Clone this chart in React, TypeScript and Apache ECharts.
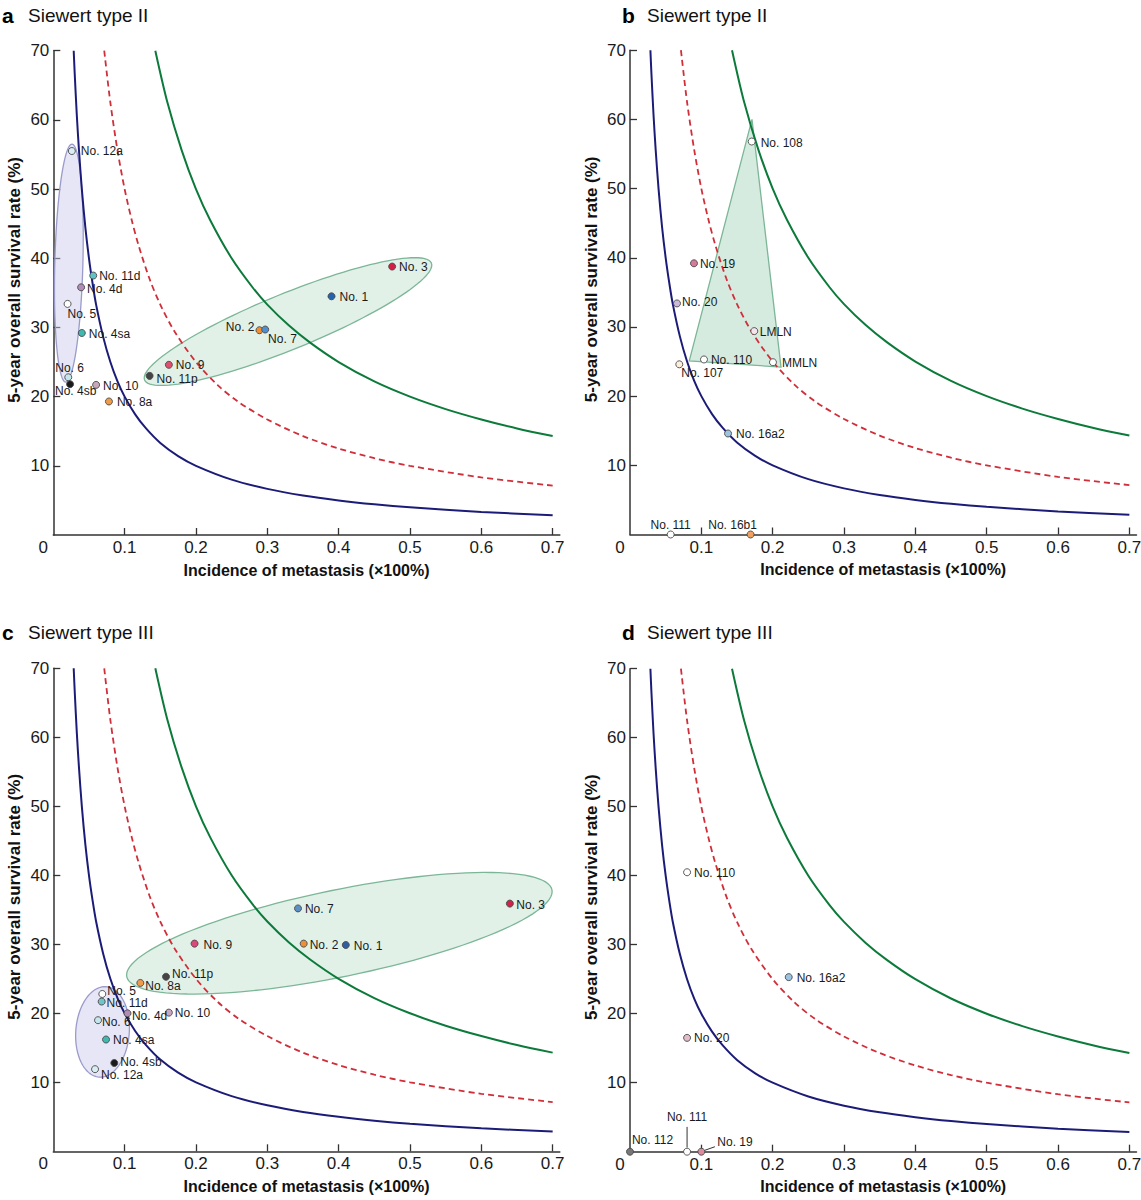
import React, { useEffect, useRef } from "react";
import * as echarts from "echarts";

const FONT = "'Liberation Sans', Arial, Helvetica, sans-serif";

// ---------- axes & titles ----------
const xTickValues = [0, 0.1, 0.2, 0.3, 0.4, 0.5, 0.6, 0.7];
const yTickValues = [10, 20, 30, 40, 50, 60, 70];
const panelLetters = ["a", "b", "c", "d"];
const panelTitles = ["Siewert type II", "Siewert type II", "Siewert type III", "Siewert type III"];
const xAxisTitle = "Incidence of metastasis (\u00d7100%)";
const yAxisTitle = "5-year overall survival rate (%)";

// ---------- reference curves ----------
const curveLow: [number, number][] = [
  [0.0286, 70], [0.03, 66.7], [0.033, 60.6], [0.036, 55.6], [0.04, 50], [0.045, 44.4],
  [0.05, 40], [0.055, 36.4], [0.06, 33.3], [0.07, 28.6], [0.08, 25], [0.09, 22.2],
  [0.1, 20], [0.115, 17.4], [0.13, 15.4], [0.15, 13.3], [0.175, 11.4], [0.2, 10],
  [0.25, 8], [0.3, 6.67], [0.35, 5.71], [0.4, 5], [0.45, 4.44], [0.5, 4], [0.6, 3.33], [0.7, 2.86],
];
const curveMid: [number, number][] = [
  [0.0714, 70], [0.08, 62.5], [0.09, 55.6], [0.1, 50], [0.11, 45.5], [0.12, 41.7],
  [0.135, 37], [0.15, 33.3], [0.17, 29.4], [0.2, 25], [0.23, 21.7], [0.26, 19.2],
  [0.3, 16.7], [0.35, 14.3], [0.4, 12.5], [0.45, 11.1], [0.5, 10], [0.6, 8.33], [0.7, 7.14],
];
const curveHigh: [number, number][] = [
  [0.143, 70], [0.16, 62.5], [0.18, 55.6], [0.2, 50], [0.22, 45.5], [0.25, 40],
  [0.28, 35.7], [0.3, 33.3], [0.33, 30.3], [0.36, 27.8], [0.4, 25], [0.45, 22.2],
  [0.5, 20], [0.55, 18.2], [0.6, 16.7], [0.65, 15.4], [0.7, 14.3],
];

// ---------- stations: [name, incidence, survival] ----------
const pointsA: [string, number, number][] = [
  ["No. 12a", 0.026, 55.5], ["No. 11d", 0.056, 37.5], ["No. 4d", 0.039, 35.8],
  ["No. 5", 0.02, 33.4], ["No. 4sa", 0.04, 29.2], ["No. 6", 0.021, 22.8],
  ["No. 4sb", 0.0235, 21.8], ["No. 10", 0.06, 21.7], ["No. 8a", 0.078, 19.3],
  ["No. 11p", 0.135, 23.0], ["No. 9", 0.162, 24.6], ["No. 2", 0.289, 29.6],
  ["No. 7", 0.297, 29.7], ["No. 3", 0.475, 38.8], ["No. 1", 0.39, 34.5],
];
const pointsB: [string, number, number][] = [
  ["No. 108", 0.1706, 56.8], ["No. 19", 0.0897, 39.2], ["No. 20", 0.0659, 33.4],
  ["LMLN", 0.1742, 29.4], ["No. 110", 0.1037, 25.3], ["No. 107", 0.0691, 24.6],
  ["MMLN", 0.2004, 24.9], ["No. 16a2", 0.1374, 14.6], ["No. 111", 0.057, 0],
  ["No. 16b1", 0.169, 0],
];
const pointsC: [string, number, number][] = [
  ["No. 7", 0.343, 35.2], ["No. 9", 0.198, 30.1], ["No. 2", 0.351, 30.1],
  ["No. 1", 0.41, 29.9], ["No. 3", 0.64, 35.9], ["No. 11p", 0.158, 25.3],
  ["No. 8a", 0.122, 24.4], ["No. 5", 0.0687, 22.8], ["No. 11d", 0.0678, 21.7],
  ["No. 4d", 0.104, 20.0], ["No. 10", 0.162, 20.1], ["No. 6", 0.0627, 19.0],
  ["No. 4sa", 0.0739, 16.2], ["No. 4sb", 0.0855, 12.8], ["No. 12a", 0.0585, 11.9],
];
const pointsD: [string, number, number][] = [
  ["No. 110", 0.08, 40.5], ["No. 16a2", 0.2225, 25.3], ["No. 20", 0.08, 16.5],
  ["No. 112", 0, 0], ["No. 111", 0.08, 0], ["No. 19", 0.1, 0],
];

// ---------- group outlines (data coordinates) ----------
const ellipsesA = [
  { center: [0.0218, 39.3], end: [0.0262, 56.5], ratio: 0.118, tone: "purple" },
  { center: [0.329, 30.85], end: [0.53, 39.3], ratio: 0.18, tone: "green" },
];
const trianglesB = [{ vertices: [[0.171, 60.0], [0.0831, 25.1], [0.2117, 24.2]], tone: "green" }];
const ellipsesC = [
  { center: [0.069, 17.3], end: [0.0739, 23.85], ratio: 0.59, tone: "purple" },
  { center: [0.401, 31.6], end: [0.699, 37.9], ratio: 0.2, tone: "green" },
];
const leadersD: [number, number][][] = [
  [[0.08, 0.6], [0.08, 3.6]],
  [[0.104, 0.17], [0.119, 0.72]],
];

// ---------- styles ----------
const tones: Record<string, { fill: string; stroke: string }> = {
  purple: { fill: "rgba(200,200,235,0.45)", stroke: "#9b9bcb" },
  green: { fill: "rgba(170,215,190,0.35)", stroke: "#7cb697" },
};
const colorsA: Record<string, string> = {
  "No. 12a": "#d9eef4", "No. 11d": "#5cc3c6", "No. 4d": "#b48ab6", "No. 5": "#ffffff",
  "No. 4sa": "#3fb8b0", "No. 6": "#c5e6ef", "No. 4sb": "#1a1a1a", "No. 10": "#c8a7b8",
  "No. 8a": "#f09a4a", "No. 11p": "#454545", "No. 9": "#e0506e", "No. 2": "#ef8f35",
  "No. 7": "#4a90d2", "No. 3": "#d41f45", "No. 1": "#2563ad",
};
const colorsB: Record<string, string> = {
  "No. 108": "#ffffff", "No. 19": "#d77a9a", "No. 20": "#cbb8da", "LMLN": "#f6e4ec",
  "No. 110": "#ffffff", "No. 107": "#fcefdc", "MMLN": "#ffffff", "No. 16a2": "#9cc3e0",
  "No. 111": "#ffffff", "No. 16b1": "#f0a060",
};
const colorsC: Record<string, string> = {
  "No. 7": "#5a90c4", "No. 9": "#d94a78", "No. 2": "#ef8f35", "No. 1": "#2e5fa0",
  "No. 3": "#d6204a", "No. 11p": "#454545", "No. 8a": "#f09a4a", "No. 5": "#ffffff",
  "No. 11d": "#6cc7cb", "No. 4d": "#b48ab6", "No. 10": "#c8a7c0", "No. 6": "#c5e6ef",
  "No. 4sa": "#3fb8b0", "No. 4sb": "#1a1a1a", "No. 12a": "#d9eef4",
};
const colorsD: Record<string, string> = {
  "No. 110": "#ffffff", "No. 16a2": "#9cc3e0", "No. 20": "#e2bccb", "No. 112": "#777777",
  "No. 111": "#ffffff", "No. 19": "#e08aa0",
};
type LP = [string, number, number];
const labelA: Record<string, LP> = {
  "No. 12a": ["right", 5, 0], "No. 11d": ["right", 2, 0], "No. 4d": ["right", 2, 2],
  "No. 5": ["right", -4, 10], "No. 4sa": ["right", 3, 1], "No. 6": ["right", -17, -9],
  "No. 4sb": ["right", -19, 7], "No. 10": ["right", 3, 1], "No. 8a": ["right", 4, 1],
  "No. 11p": ["right", 3, 3], "No. 9": ["right", 3, 0], "No. 2": ["left", -1, -3],
  "No. 7": ["right", -1, 9], "No. 3": ["right", 3, 0], "No. 1": ["right", 4, 1],
};
const labelB: Record<string, LP> = {
  "No. 108": ["right", 5, 1], "No. 19": ["right", 2, 1], "No. 20": ["right", 1, -1],
  "LMLN": ["right", 1.5, 1], "No. 110": ["right", 3, 1], "No. 107": ["right", -2, 9],
  "MMLN": ["right", 5, 1], "No. 16a2": ["right", 4, 1], "No. 111": ["top", 0, 0],
  "No. 16b1": ["top", -18, 0],
};
const labelC: Record<string, LP> = {
  "No. 7": ["right", 3, 1], "No. 9": ["right", 5, 1], "No. 2": ["right", 2, 1],
  "No. 1": ["right", 4, 1], "No. 3": ["right", 2.5, 1], "No. 11p": ["right", 2, -3],
  "No. 8a": ["right", 1, 3], "No. 5": ["right", 1, -3], "No. 11d": ["right", 1, 1],
  "No. 4d": ["right", 0.5, 2.5], "No. 10": ["right", 2, 0], "No. 6": ["right", 0, 1.5],
  "No. 4sa": ["right", 3, 0], "No. 4sb": ["right", 2, -1], "No. 12a": ["right", 2, 6],
};
const labelD: Record<string, LP> = {
  "No. 110": ["right", 3, 1], "No. 16a2": ["right", 4, 1], "No. 20": ["right", 3, 0],
  "No. 112": ["right", -2, -12], "No. 111": ["top", 0, -25], "No. 19": ["right", 12, -10],
};

const grids = [
  { left: 53.3, top: 50.7, width: 506.5, height: 484.3 },
  { left: 630, top: 50.2, width: 506.5, height: 484.3 },
  { left: 53.3, top: 668.3, width: 506.5, height: 483 },
  { left: 630, top: 668.7, width: 506.5, height: 483 },
];
const titlePos = [
  { lx: 2, tx: 28, y: 15 },
  { lx: 622, tx: 647, y: 15 },
  { lx: 2, tx: 28, y: 632 },
  { lx: 622, tx: 647, y: 632 },
];

const panels = [
  { points: pointsA, colors: colorsA, labels: labelA, ellipses: ellipsesA, triangles: [], leaders: [] },
  { points: pointsB, colors: colorsB, labels: labelB, ellipses: [], triangles: trianglesB, leaders: [] },
  { points: pointsC, colors: colorsC, labels: labelC, ellipses: ellipsesC, triangles: [], leaders: [] },
  { points: pointsD, colors: colorsD, labels: labelD, ellipses: [], triangles: [], leaders: leadersD },
];

function buildOption() {
  const axisColor = "#333333";
  const textColor = "#1a1a1a";
  const xAxis: any[] = [];
  const yAxis: any[] = [];
  const series: any[] = [];
  const graphic: any[] = [];

  panels.forEach((p, i) => {
    xAxis.push({
      type: "value", gridIndex: i, min: 0, max: 0.71,
      name: xAxisTitle, nameLocation: "middle", nameGap: 27,
      nameTextStyle: { fontFamily: FONT, fontSize: 16, fontWeight: "bold", color: "#111" },
      axisLine: { show: true, onZero: false, lineStyle: { color: axisColor, width: 1.5 } },
      axisTick: { show: true, inside: true, length: 7, customValues: xTickValues.slice(1), lineStyle: { color: axisColor, width: 1.3 } },
      axisLabel: {
        show: true, customValues: xTickValues, margin: 4,
        fontFamily: FONT, fontSize: 17, color: textColor,
        formatter: (v: number) => (v === 0 ? "{z|0}" : String(Math.round(v * 10) / 10)),
        rich: { z: { fontFamily: FONT, fontSize: 17, color: textColor, padding: [0, 20, 0, 0] } },
      },
      splitLine: { show: false },
    });
    yAxis.push({
      type: "value", gridIndex: i, min: 0, max: 70,
      name: yAxisTitle, nameLocation: "middle", nameGap: 30,
      nameTextStyle: { fontFamily: FONT, fontSize: 17, fontWeight: "bold", color: "#111", padding: [0, 0, 0, 26] },
      axisLine: { show: true, onZero: false, lineStyle: { color: axisColor, width: 1.5 } },
      axisTick: { show: true, inside: true, length: 7, customValues: yTickValues, lineStyle: { color: axisColor, width: 1.3 } },
      axisLabel: { show: true, customValues: yTickValues, margin: 4, fontFamily: FONT, fontSize: 17, color: textColor },
      splitLine: { show: false },
    });

    p.ellipses.forEach((e: any) => {
      const tone = tones[e.tone];
      series.push({
        type: "custom", xAxisIndex: i, yAxisIndex: i, z: 1, silent: true, clip: false,
        data: [[e.center[0], e.center[1]]], encode: { x: 0, y: 1 },
        renderItem: (_params: any, api: any) => {
          const c = api.coord(e.center);
          const q = api.coord(e.end);
          const ux = q[0] - c[0], uy = q[1] - c[1];
          const vx = -uy * e.ratio, vy = ux * e.ratio;
          const pts: number[][] = [];
          for (let k = 0; k <= 120; k++) {
            const t = (k / 120) * Math.PI * 2;
            pts.push([c[0] + ux * Math.cos(t) + vx * Math.sin(t), c[1] + uy * Math.cos(t) + vy * Math.sin(t)]);
          }
          return { type: "polygon", shape: { points: pts }, style: { fill: tone.fill, stroke: tone.stroke, lineWidth: 1.3 } };
        },
      });
    });
    p.triangles.forEach((tri: any) => {
      const tone = tones[tri.tone];
      series.push({
        type: "custom", xAxisIndex: i, yAxisIndex: i, z: 1, silent: true, clip: false,
        data: [tri.vertices[0]], encode: { x: 0, y: 1 },
        renderItem: (_params: any, api: any) => ({
          type: "polygon",
          shape: { points: tri.vertices.map((v: number[]) => api.coord(v)) },
          style: { fill: "rgba(150,205,175,0.4)", stroke: tone.stroke, lineWidth: 1.3 },
        }),
      });
    });

    const curveDefs = [
      { data: curveLow, color: "#1c1c78", type: "solid", width: 2 },
      { data: curveMid, color: "#d02f3a", type: [6, 4], width: 1.8 },
      { data: curveHigh, color: "#0c7a3a", type: "solid", width: 2 },
    ];
    curveDefs.forEach((cd) => {
      series.push({
        type: "line", xAxisIndex: i, yAxisIndex: i, z: 2, silent: true,
        data: cd.data, showSymbol: false, symbol: "none", smooth: 0.3,
        lineStyle: { color: cd.color, width: cd.width, type: cd.type },
      });
    });

    p.leaders.forEach((ld: [number, number][]) => {
      series.push({
        type: "line", xAxisIndex: i, yAxisIndex: i, z: 3, silent: true,
        data: ld, showSymbol: false, symbol: "none",
        lineStyle: { color: "#333", width: 1 },
      });
    });

    series.push({
      type: "scatter", xAxisIndex: i, yAxisIndex: i, z: 4, clip: false,
      symbolSize: 7,
      itemStyle: { borderColor: "#4a4a4a", borderWidth: 0.9, opacity: 1 },
      data: p.points.map(([name, x, y]) => {
        const lp = p.labels[name] || ["right", 3, 0];
        return {
          name, value: [x, y],
          itemStyle: { color: p.colors[name] || "#fff" },
          label: {
            show: true, formatter: name, position: lp[0], distance: 0, offset: [lp[1], lp[2]],
            fontFamily: FONT, fontSize: 12, lineHeight: 12, color: textColor,
          },
        };
      }),
    });

    const tp = titlePos[i];
    graphic.push({
      type: "text", x: tp.lx, y: tp.y,
      style: { text: panelLetters[i], font: `bold 21px ${FONT}`, fill: "#000", verticalAlign: "middle" },
    });
    graphic.push({
      type: "text", x: tp.tx, y: tp.y,
      style: { text: panelTitles[i], font: `19px ${FONT}`, fill: "#111", verticalAlign: "middle" },
    });
  });

  return {
    animation: false,
    backgroundColor: "#ffffff",
    grid: grids.map((g) => ({ ...g, containLabel: false, outerBoundsMode: "none" })),
    xAxis, yAxis, series, graphic,
  };
}

export default function App() {
  const ref = useRef<HTMLDivElement>(null);
  useEffect(() => {
    document.body.style.margin = "0";
    if (!ref.current) return;
    const chart = echarts.init(ref.current, undefined, { renderer: "svg" });
    chart.setOption(buildOption() as any);
    return () => chart.dispose();
  }, []);
  return <div ref={ref} style={{ width: 1141, height: 1200 }} />;
}
